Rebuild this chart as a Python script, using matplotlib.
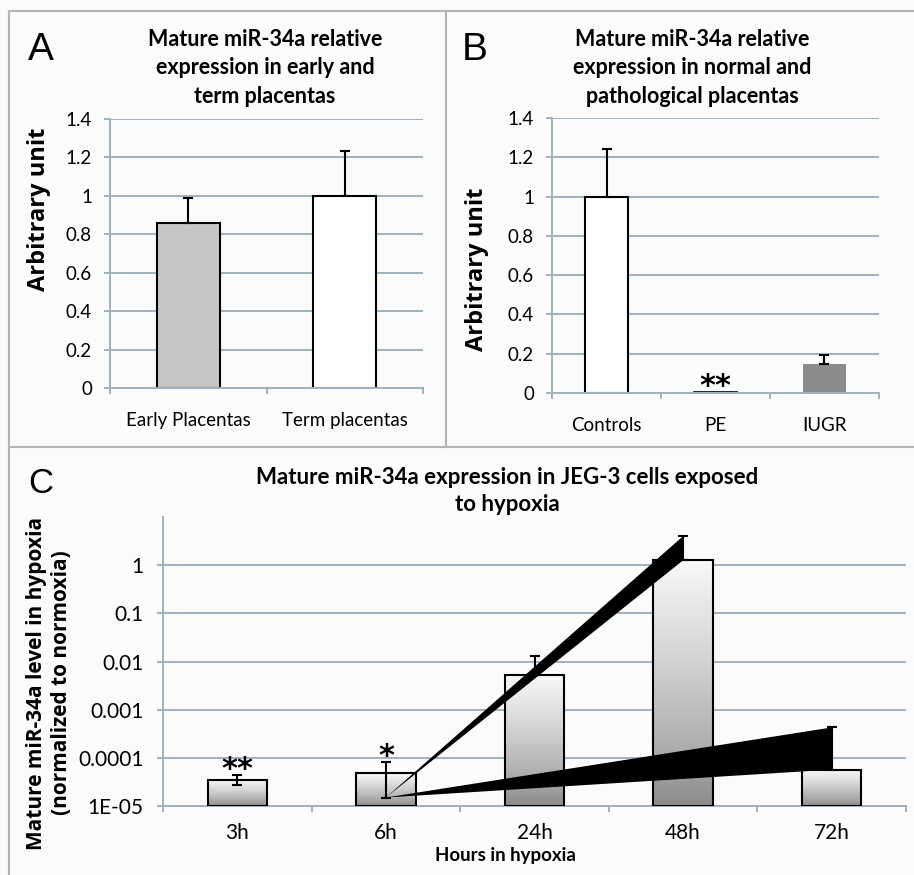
import numpy as np
import matplotlib
matplotlib.use("Agg")
import matplotlib.pyplot as plt
from matplotlib.lines import Line2D
from matplotlib.ticker import FixedLocator, NullLocator

# ---------------- data ----------------
a_categories = ["Early Placentas", "Term placentas"]
a_values = [0.86, 1.00]
a_errors = [0.13, 0.235]
a_colors = ["#c6c6c6", "#ffffff"]

b_categories = ["Controls", "PE", "IUGR"]
b_values = [1.00, 0.006, 0.15]
b_errors = [0.24, 0.0, 0.043]
b_colors = ["#ffffff", "#8c8c8c", "#8c8c8c"]
b_stars = ["", "**", ""]

ab_yticks = [0, 0.2, 0.4, 0.6, 0.8, 1.0, 1.2, 1.4]
ab_yticklabels = ["0", "0.2", "0.4", "0.6", "0.8", "1", "1.2", "1.4"]

c_categories = ["3h", "6h", "24h", "48h", "72h"]
c_values = [3.5e-5, 4.8e-5, 5.2e-3, 1.26, 5.7e-5]
c_err_upper = [0.8e-5, 3.3e-5, 8.0e-3, 2.74, 3.7e-4]
c_err_lower = [0.8e-5, 3.3e-5, 0.0, 0.0, 0.0]
c_stars = ["**", "*", "", "", ""]
c_yticks = [1e-5, 1e-4, 1e-3, 1e-2, 1e-1, 1]
c_yticklabels = ["1E-05", "0.0001", "0.001", "0.01", "0.1", "1"]
# black wedge artefacts: from lower error end of one bar to the error span of another
c_wedges = [(1, 3), (1, 4)]

# ---------------- style ----------------
plt.rcParams["font.family"] = ["Lato", "DejaVu Sans"]
W, H = 914, 875
BG = "#fbfbfc"
GRID = "#9fb3bd"
TICK_AB = 13.5
TICK_C = 15

fig = plt.figure(figsize=(W / 100, H / 100), dpi=100, facecolor=BG)


def ax_rect(l, t, r, b):
    return [l / W, 1 - b / H, (r - l) / W, (b - t) / H]


def fx(x):
    return x / W


def fy(y):
    return 1 - y / H


def style_axes(ax, ncat, pad_y, pad_x, size):
    ax.set_facecolor("none")
    for s in ("top", "right"):
        ax.spines[s].set_visible(False)
    for s in ("left", "bottom"):
        ax.spines[s].set_color(GRID)
        ax.spines[s].set_linewidth(1.4)
    ax.set_xlim(-0.5, ncat - 0.5)
    ax.set_xticks(range(ncat))
    ax.xaxis.set_minor_locator(FixedLocator(np.arange(-0.5, ncat, 1.0)))
    ax.yaxis.set_minor_locator(NullLocator())
    ax.tick_params(axis="x", which="major", length=0, pad=pad_x, labelsize=size)
    ax.tick_params(axis="x", which="minor", length=4, width=1.4, color=GRID,
                   direction="out")
    ax.tick_params(axis="y", which="major", length=4, width=1.4, color=GRID,
                   direction="out", pad=pad_y, labelsize=size)
    ax.yaxis.grid(True, color=GRID, lw=1.4)
    ax.set_axisbelow(True)


err_kw = dict(fmt="none", ecolor="black", elinewidth=1.5, capsize=3.5,
              capthick=1.5, zorder=5)
star_kw = dict(textcoords="offset points", ha="center", va="baseline",
               fontsize=22, fontweight="bold", family="DejaVu Sans")

# ---------------- panel A ----------------
axA = fig.add_axes(ax_rect(110, 119, 423, 388))
xa = np.arange(len(a_values))
axA.bar(xa, a_values, width=0.4, color=a_colors, edgecolor="black",
        linewidth=1.5, zorder=2)
axA.errorbar(xa, a_values, yerr=[np.zeros(len(a_values)), a_errors], **err_kw)
axA.set_ylim(0, 1.4)
style_axes(axA, len(a_values), 9, 17, TICK_AB)
axA.set_yticks(ab_yticks, ab_yticklabels)
axA.set_xticklabels(a_categories)

# ---------------- panel B ----------------
axB = fig.add_axes(ax_rect(552, 118, 879, 393))
xb = np.arange(len(b_values))
axB.bar(xb, b_values, width=0.4, color=b_colors, edgecolor="black",
        linewidth=[1.5, 1.2, 0], zorder=2)
axB.errorbar(xb[[0, 2]], np.array(b_values)[[0, 2]],
             yerr=[np.zeros(2), np.array(b_errors)[[0, 2]]], **err_kw)
axB.set_ylim(0, 1.4)
style_axes(axB, len(b_values), 9, 17, TICK_AB)
axB.set_yticks(ab_yticks, ab_yticklabels)
axB.set_xticklabels(b_categories)
for i, s in enumerate(b_stars):
    if s:
        axB.annotate(s, xy=(i, b_values[i] + b_errors[i]), xytext=(0, -2),
                     **star_kw)

# ---------------- panel C ----------------
axC = fig.add_axes(ax_rect(163, 517, 906, 806))
axC.set_yscale("log")
base = 1e-5
nseg = 60
for i, v in enumerate(c_values):
    edges = np.geomspace(base, v, nseg + 1)
    t = np.linspace(0, 1, nseg)
    shades = 0.54 + 0.43 * t ** 0.8
    cols = [(s, s, s) for s in shades]
    axC.bar(np.full(nseg, i), np.diff(edges), bottom=edges[:-1], width=0.4,
            color=cols, edgecolor=cols, linewidth=0.3, zorder=2)
    axC.bar(i, v - base, bottom=base, width=0.4, fill=False,
            edgecolor="black", linewidth=1.5, zorder=3)
for i0, i1 in c_wedges:
    y0 = c_values[i0] - c_err_lower[i0]
    axC.fill([i0, i1, i1],
             [y0, c_values[i1], c_values[i1] + c_err_upper[i1]],
             color="black", linewidth=0, zorder=4)
xc = np.arange(len(c_values))
axC.errorbar(xc, c_values, yerr=[c_err_lower, c_err_upper], **err_kw)
axC.set_ylim(1e-5, 10)
style_axes(axC, len(c_values), 10, 12, TICK_C)
axC.yaxis.set_major_locator(FixedLocator(c_yticks))
axC.yaxis.set_minor_locator(NullLocator())
axC.set_yticklabels(c_yticklabels)
axC.set_xticklabels(c_categories)
for i, s in enumerate(c_stars):
    if s:
        axC.annotate(s, xy=(i, c_values[i] + c_err_upper[i]), xytext=(0, -2),
                     **star_kw)

# ---------------- texts ----------------
title_kw = dict(ha="center", va="center", fontsize=15.5, fontweight="bold",
                linespacing=1.42)
fig.text(fx(265), fy(68),
         "Mature miR-34a relative\nexpression in early and\nterm placentas",
         **title_kw)
fig.text(fx(692), fy(68),
         "Mature miR-34a relative\nexpression in normal and\npathological placentas",
         **title_kw)
fig.text(fx(507), fy(491),
         "Mature miR-34a expression in JEG-3 cells exposed\nto hypoxia",
         ha="center", va="center", fontsize=16, fontweight="bold",
         linespacing=1.3)
ylab_kw = dict(rotation=90, ha="center", va="center", fontsize=17,
               fontweight="bold", family="Open Sans")
fig.text(fx(39), fy(209), "Arbitrary unit", **ylab_kw)
fig.text(fx(477), fy(269), "Arbitrary unit", **ylab_kw)
fig.text(fx(49), fy(683),
         "Mature miR-34a level in hypoxia\n(normalized to normoxia)",
         rotation=90, ha="center", va="center", fontsize=15,
         fontweight="bold", family="Open Sans", linespacing=1.3)
fig.text(fx(505), fy(855), "Hours in hypoxia", ha="center", va="center",
         fontsize=13.5, fontweight="bold")

fig.text(fx(28), fy(60), "A", ha="left", va="baseline", fontsize=28,
         family="Liberation Sans")
fig.text(fx(462), fy(60), "B", ha="left", va="baseline", fontsize=28,
         family="Liberation Sans")
fig.text(fx(28), fy(493), "C", ha="left", va="baseline", fontsize=25,
         family="Liberation Sans")

# ---------------- frame ----------------
frame = dict(color="#b4b4b4", lw=1.5, transform=fig.transFigure)
fig.add_artist(Line2D([fx(9), fx(W)], [fy(11), fy(11)], **frame))
fig.add_artist(Line2D([fx(9), fx(9)], [fy(11), fy(H)], **frame))
fig.add_artist(Line2D([fx(446), fx(446)], [fy(11), fy(447)], **frame))
fig.add_artist(Line2D([fx(9), fx(W)], [fy(447), fy(447)], **frame))

fig.savefig("out.png", dpi=100, facecolor=BG)
